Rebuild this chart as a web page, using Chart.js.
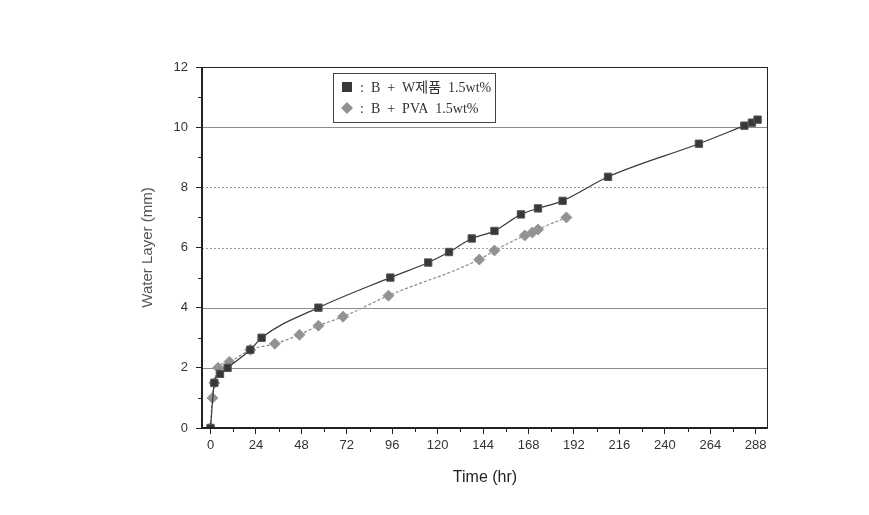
<!DOCTYPE html>
<html>
<head>
<meta charset="utf-8">
<script src="https://cdn.jsdelivr.net/npm/chart.js@4.4.0/dist/chart.umd.min.js"></script>
<style>
  html, body { margin: 0; padding: 0; background: #fff; }
</style>
</head>
<body>
<canvas id="myChart" width="869" height="515"></canvas>
<script>
// data
const labelW = ":  B  +  W제품  1.5wt%";
const timeW = [0, 2, 5, 9, 21, 27, 57, 95, 115, 126, 138, 150, 164, 173, 186, 210, 258, 282, 286, 289];
const layerW = [0, 1.5, 1.8, 2.0, 2.6, 3.0, 4.0, 5.0, 5.5, 5.85, 6.3, 6.55, 7.1, 7.3, 7.55, 8.35, 9.45, 10.05, 10.15, 10.25];

const labelP = ":  B  +  PVA  1.5wt%";
const timeP = [0, 1, 2, 4, 10, 21, 34, 47, 57, 70, 94, 142, 150, 166, 170, 173, 188];
const layerP = [0, 1.0, 1.5, 2.0, 2.2, 2.6, 2.8, 3.1, 3.4, 3.7, 4.4, 5.6, 5.9, 6.4, 6.5, 6.6, 7.0];

const xStep = 24;
const yStep = 2;
const solidGrid = [2, 4, 10];
const dottedGrid = [6, 8];

const toPoints = function (xs, ys) {
  return xs.map((x, i) => ({ x: x, y: ys[i] }));
};

// gridlines, box, minor ticks and the legend box
const framePlugin = {
  id: "frame",
  beforeDatasetsDraw(chart) {
    const ctx = chart.ctx;
    const a = chart.chartArea;
    const y = chart.scales.y;
    ctx.save();
    ctx.lineWidth = 1;
    solidGrid.forEach((v) => {
      const py = Math.round(y.getPixelForValue(v)) + 0.5;
      ctx.strokeStyle = "#8c8c8c";
      ctx.setLineDash([]);
      ctx.beginPath();
      ctx.moveTo(a.left, py);
      ctx.lineTo(a.right, py);
      ctx.stroke();
    });
    dottedGrid.forEach((v) => {
      const py = Math.round(y.getPixelForValue(v)) + 0.5;
      ctx.strokeStyle = "#9a9a9a";
      ctx.setLineDash([2, 2]);
      ctx.beginPath();
      ctx.moveTo(a.left, py);
      ctx.lineTo(a.right, py);
      ctx.stroke();
    });
    ctx.restore();
  },
  afterDraw(chart) {
    const ctx = chart.ctx;
    const a = chart.chartArea;
    const x = chart.scales.x;
    const y = chart.scales.y;
    ctx.save();
    // box
    ctx.strokeStyle = "#222";
    ctx.lineWidth = 1;
    ctx.strokeRect(a.left + 0.5, a.top + 0.5, a.right - a.left - 1, a.bottom - a.top - 1);
    ctx.lineWidth = 2;
    ctx.beginPath();
    ctx.moveTo(a.left, a.top);
    ctx.lineTo(a.left, a.bottom);
    ctx.lineTo(a.right, a.bottom);
    ctx.stroke();
    // minor ticks
    ctx.lineWidth = 1;
    for (let v = xStep / 2; v < x.max; v += xStep) {
      const px = Math.round(x.getPixelForValue(v)) + 0.5;
      ctx.beginPath();
      ctx.moveTo(px, a.bottom);
      ctx.lineTo(px, a.bottom + 4);
      ctx.stroke();
    }
    for (let v = yStep / 2; v < y.max; v += yStep) {
      const py = Math.round(y.getPixelForValue(v)) + 0.5;
      ctx.beginPath();
      ctx.moveTo(a.left - 4, py);
      ctx.lineTo(a.left, py);
      ctx.stroke();
    }
    // legend
    const lx = 333, ly = 73, lw = 162, lh = 49;
    ctx.fillStyle = "#fff";
    ctx.fillRect(lx, ly, lw, lh);
    ctx.strokeStyle = "#444";
    ctx.lineWidth = 1;
    ctx.strokeRect(lx + 0.5, ly + 0.5, lw, lh);
    const ds = chart.data.datasets;
    ctx.font = "14px 'Liberation Serif', 'Noto Sans CJK KR', serif";
    ctx.textBaseline = "middle";
    ds.forEach((d, i) => {
      const cy = ly + 14 + i * 21;
      ctx.fillStyle = d.backgroundColor;
      if (d.pointStyle === "rect") {
        ctx.fillRect(lx + 9, cy - 5, 10, 10);
      } else {
        ctx.beginPath();
        ctx.moveTo(lx + 14, cy - 6);
        ctx.lineTo(lx + 20, cy);
        ctx.lineTo(lx + 14, cy + 6);
        ctx.lineTo(lx + 8, cy);
        ctx.closePath();
        ctx.fill();
      }
      ctx.fillStyle = "#333";
      ctx.fillText(d.label, lx + 27, cy + 1);
    });
    ctx.restore();
  },
};

const config = {
  type: "scatter",
  data: {
    datasets: [
      {
        label: labelW,
        data: toPoints(timeW, layerW),
        showLine: true,
        borderColor: "#3a3a3a",
        borderWidth: 1.2,
        backgroundColor: "#383838",
        pointBorderColor: "#555",
        pointStyle: "rect",
        pointRadius: 5.2,
        pointBorderWidth: 1,
        cubicInterpolationMode: "monotone",
      },
      {
        label: labelP,
        data: toPoints(timeP, layerP),
        showLine: true,
        borderColor: "#8a8a8a",
        borderWidth: 1.2,
        borderDash: [3, 2],
        backgroundColor: "#929292",
        pointBorderColor: "#9a9a9a",
        pointStyle: "rectRot",
        pointRadius: 5.5,
        pointBorderWidth: 1,
        cubicInterpolationMode: "monotone",
      },
    ],
  },
  options: {
    responsive: false,
    animation: false,
    layout: { padding: { top: 67, right: 101, left: 132, bottom: 17 } },
    plugins: { legend: { display: false }, tooltip: { enabled: false } },
    scales: {
      x: {
        type: "linear",
        min: -4.5,
        max: 294.5,
        afterFit: (s) => { s.height = 70; },
        ticks: {
          stepSize: xStep,
          includeBounds: false,
          color: "#333",
          padding: 4,
          font: { family: "'Liberation Sans', Arial", size: 13 },
        },
        grid: { drawOnChartArea: false, tickLength: 6, tickColor: "#222" },
        border: { display: false },
        title: {
          display: true,
          text: "Time (hr)",
          color: "#222",
          padding: { top: 0, bottom: 11 },
          font: { family: "'Liberation Sans', Arial", size: 16 },
        },
      },
      y: {
        min: 0,
        max: 12,
        afterFit: (s) => { s.width = 70; },
        ticks: {
          stepSize: yStep,
          color: "#333",
          padding: 8,
          font: { family: "'Liberation Sans', Arial", size: 13 },
        },
        grid: { drawOnChartArea: false, tickLength: 6, tickColor: "#222" },
        border: { display: false },
        title: {
          display: true,
          text: "Water Layer (mm)",
          color: "#555",
          padding: { top: 7, bottom: 0 },
          font: { family: "'Liberation Sans', Arial", size: 15 },
        },
      },
    },
  },
  plugins: [framePlugin],
};

const myChart = new Chart(document.getElementById("myChart"), config);
</script>
</body>
</html>
